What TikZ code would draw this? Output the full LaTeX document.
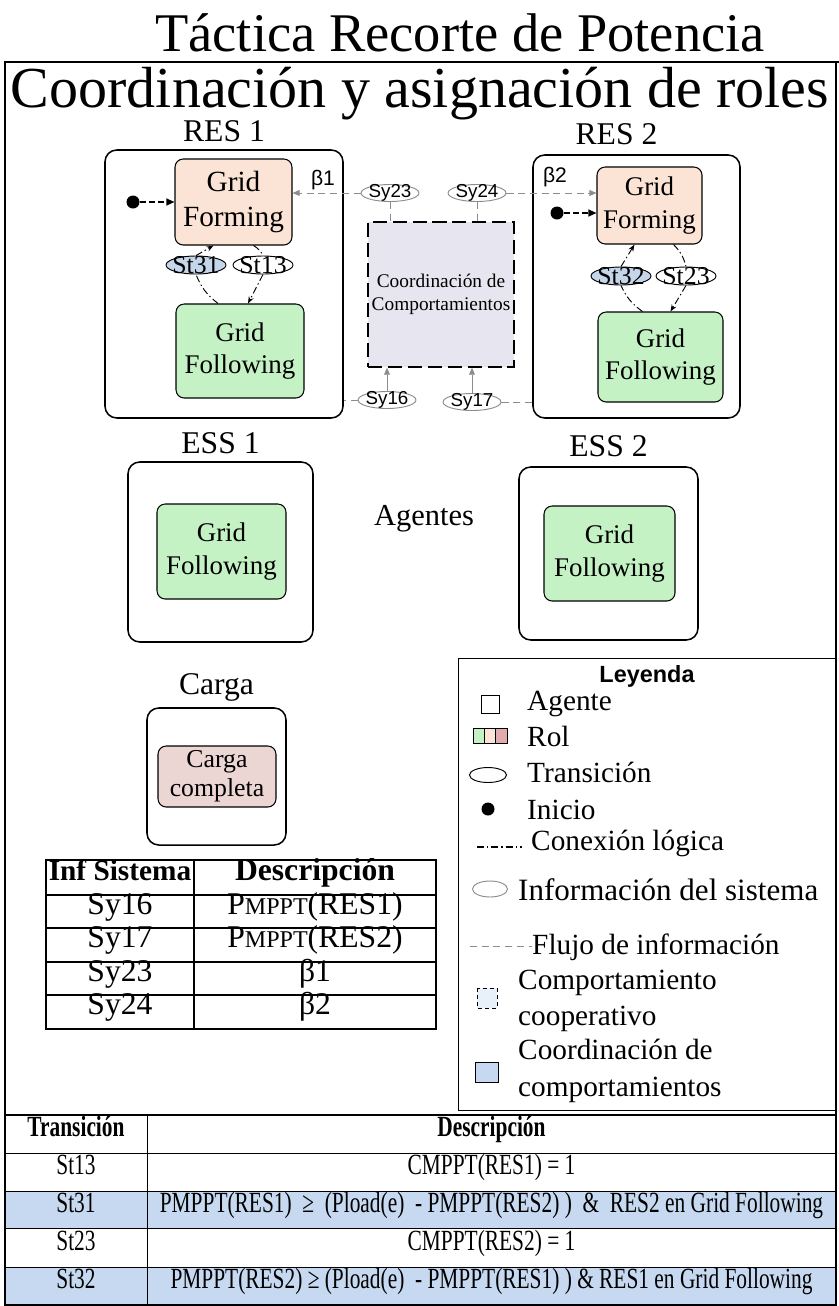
\documentclass[tikz,border=0pt]{standalone}
\usepackage{fontspec}
\usepackage{graphicx}
\setmainfont{Liberation Serif}
\newfontfamily\arialfont{Liberation Sans}
\usetikzlibrary{shapes.geometric, arrows.meta, positioning, calc}

\definecolor{formc}{RGB}{251,228,213}
\definecolor{followc}{RGB}{196,242,196}
\definecolor{cargac}{RGB}{236,214,212}
\definecolor{rolc}{RGB}{222,172,172}
\definecolor{transc}{RGB}{197,213,234}
\definecolor{coordc}{RGB}{231,229,239}
\definecolor{coopc}{RGB}{232,240,250}
\definecolor{rowc}{RGB}{198,217,240}
\definecolor{flowc}{RGB}{140,140,140}

% 1 unidad = 1 px
\newcommand{\pxu}{0.03cm}
\newcommand{\narrow}[1]{\scalebox{0.73}[1]{#1}}
\newcommand{\pmppt}{P\scalebox{0.76}{MPPT}}

\tikzstyle{agent} = [rectangle, 
			draw, 
			line width = 1.3pt,
			rounded corners = 10pt]
\tikzstyle{rol} = [rectangle, 
			draw, 
			line width = 0.9pt,
			rounded corners = 7pt,
			align = center,
			inner sep = 1pt,
			font = \fontsize{23}{28}\selectfont]
\tikzstyle{trans} = [ellipse, 
			draw, 
			line width = 0.8pt,
			inner sep = -3pt,
			minimum width = 60*\pxu,
			minimum height = 18*\pxu,
			font = \fontsize{22}{22}\selectfont]
\tikzstyle{info} = [ellipse, 
			draw = flowc, 
			line width = 0.8pt,
			inner sep = -3pt,
			minimum width = 58*\pxu,
			minimum height = 17*\pxu,
			font = \arialfont\fontsize{16}{16}\selectfont]
\tikzstyle{dot} = [circle, 
			fill, 
			inner sep = 0pt,
			minimum size = 13*\pxu]
\tikzstyle{lbl} = [inner sep = 0pt, 
			font = \fontsize{27}{27}\selectfont]
\tikzstyle{legtxt} = [anchor = west, 
			inner sep = 0pt, 
			align = left,
			font = \fontsize{25}{31}\selectfont]
\tikzstyle{cell} = [inner sep = 0pt, 
			text height = 0.7em, 
			text depth = 0.2em,
			font = \fontsize{27}{27}\selectfont]
\tikzstyle{tcell} = [inner sep = 0pt, 
			text height = 0.7em, 
			text depth = 0.2em,
			font = \fontsize{25}{25}\selectfont]
\tikzstyle{flow} = [draw = flowc, 
			dash pattern = on 6pt off 4pt, 
			line width = 0.8pt]
\tikzstyle{logic} = [draw, 
			dash pattern = on 6pt off 2.5pt on 1.2pt off 2.5pt, 
			line width = 0.8pt]
\tikzstyle{ini} = [draw, 
			dash pattern = on 5pt off 3pt, 
			line width = 1.3pt]

\begin{document}
\begin{tikzpicture}[x = \pxu, y = -\pxu, node distance = 1em, auto]
	\useasboundingbox (0,0) rectangle (839,1306);
	\node [lbl, anchor = base, font = \fontsize{46.5}{46.5}\selectfont] (title) at (460,51) {Táctica Recorte de Potencia};
	\draw [line width = 1.5pt] (5,1306) -- (5,62) -- (839,62);
	\draw [line width = 1.5pt] (836,62) -- (836,1306);
	\node [lbl, anchor = base, font = \fontsize{49.5}{49.5}\selectfont] (subtitle) at (420,107) {Coordinación y asignación de roles};

	% RES 1
	\node [agent, minimum width = 238*\pxu, minimum height = 268*\pxu] (res1) at (224,284) {};
	\node [lbl, above = 6pt of res1] (res1lbl) {RES 1};
	\node [rol, fill = formc, minimum width = 117*\pxu, minimum height = 86*\pxu, font = \fontsize{25}{30}\selectfont] (gf1) at (233.5,202) {Grid\\Forming};
	\node [rol, fill = followc, minimum width = 128*\pxu, minimum height = 94*\pxu] (gl1) at (240,351) {Grid\\Following};
	\node [trans, fill = transc] (st31) at (196,265) {St31};
	\node [trans] (st13) at (263,265) {St13};
	\node [dot] (ini1) at (133,202) {};
	\node [lbl, font = \arialfont\fontsize{18}{18}\selectfont] (beta1) at (323,180) {β1};
	\draw [ini, -{Triangle[length=7pt, width=6pt]}] (ini1) -- (ini1 -| gf1.west);
	\draw [logic] ($(gl1.north)+(-22,0)$) to[bend left=15] (st31.south);
	\draw [logic, -{Stealth[length=6pt]}] (st31.north) -- ($(gf1.south)+(-20,0)$);
	\draw [logic] ($(gf1.south)+(20,0)$) to[bend left=15] (st13.north);
	\draw [logic, -{Stealth[length=6pt]}] (st13.south) -- ($(gl1.north)+(8,0)$);

	% RES 2
	\node [agent, minimum width = 207*\pxu, minimum height = 263*\pxu] (res2) at (636.5,286.5) {};
	\node [lbl, above = 8pt of res2, xshift = -0.6cm] (res2lbl) {RES 2};
	\node [rol, fill = formc, minimum width = 105*\pxu, minimum height = 77*\pxu] (gf2) at (649.5,205.5) {Grid\\Forming};
	\node [rol, fill = followc, minimum width = 125*\pxu, minimum height = 90*\pxu] (gl2) at (660.5,357) {Grid\\Following};
	\node [trans, fill = transc] (st32) at (621,276) {St32};
	\node [trans] (st23) at (686,276) {St23};
	\node [dot] (ini2) at (557,213) {};
	\node [lbl, font = \arialfont\fontsize{18}{18}\selectfont] (beta2) at (555,177) {β2};
	\draw [ini, -{Triangle[length=7pt, width=6pt]}] (ini2) -- (ini2 -| gf2.west);
	\draw [logic] ($(gl2.north)+(-18,0)$) to[bend left=15] (st32.south);
	\draw [logic, -{Stealth[length=6pt]}] (st32.north) -- ($(gf2.south)+(-15,0)$);
	\draw [logic] ($(gf2.south)+(24,0)$) to[bend left=15] (st23.north);
	\draw [logic, -{Stealth[length=6pt]}] (st23.south) -- ($(gl2.north)+(10,0)$);

	% coordinacion e informacion del sistema
	\node [draw, fill = coordc, line width = 1.2pt, dash pattern = on 12pt off 5pt, minimum width = 146*\pxu, minimum height = 145*\pxu, inner sep = 1pt, align = center, font = \fontsize{16.5}{20}\selectfont] (coord) at (441,294.5) {Coordinación de\\Comportamientos};
	\node [info] (sy23) at (390,193) {Sy23};
	\node [info] (sy24) at (477,193) {Sy24};
	\node [info] (sy16) at (387,400) {Sy16};
	\node [info] (sy17) at (472,402) {Sy17};
	\draw [flow, -{Triangle[length=6pt, width=5pt]}] (sy23.west) -- (sy23.west -| gf1.east);
	\draw [flow, -{Triangle[length=6pt, width=5pt]}] (sy24.east) -- (sy24.east -| gf2.west);
	\draw [flow] (sy23.south) -- (sy23.south |- coord.north);
	\draw [flow] (sy24.south) -- (sy24.south |- coord.north);
	\draw [draw = flowc, line width = 0.8pt, -{Triangle[length=6pt, width=5pt]}] (sy16.north) -- (sy16.north |- coord.south);
	\draw [draw = flowc, line width = 0.8pt, -{Triangle[length=6pt, width=5pt]}] (sy17.north) -- (sy17.north |- coord.south);
	\draw [flow] (sy16.west) -- (sy16.west -| res1.east);
	\draw [flow] (sy17.east) -- (sy17.east -| res2.west);

	% ESS y carga
	\node [agent, minimum width = 185*\pxu, minimum height = 180*\pxu] (ess1) at (220.5,552) {};
	\node [lbl, above = 6pt of ess1] (ess1lbl) {ESS 1};
	\node [rol, fill = followc, minimum width = 129*\pxu, minimum height = 95*\pxu] (gl3) at (221.5,551.5) {Grid\\Following};
	\node [agent, minimum width = 179*\pxu, minimum height = 173*\pxu] (ess2) at (608.5,553.5) {};
	\node [lbl, above = 8pt of ess2] (ess2lbl) {ESS 2};
	\node [rol, fill = followc, minimum width = 131*\pxu, minimum height = 95*\pxu] (gl4) at (609.5,553.5) {Grid\\Following};
	\node [lbl, font = \fontsize{26}{26}\selectfont] (agentes) at (424,519) {Agentes};
	\node [agent, minimum width = 139*\pxu, minimum height = 137*\pxu] (carga) at (216.5,776.5) {};
	\node [lbl, above = 5pt of carga] (cargalbl) {Carga};
	\node [rol, fill = cargac, minimum width = 118*\pxu, minimum height = 61*\pxu, font = \fontsize{22}{25}\selectfont] (cc) at (217,776.5) {Carga\\completa};

	% tabla de informacion del sistema
	\draw [line width = 1pt] (46,860) rectangle (436,1029);
	\foreach \y in {895,928,962,995} \draw [line width = 1pt] (46,\y) -- (436,\y);
	\draw [line width = 1pt] (194,860) -- (194,1029);
	\node [cell, font = \bfseries\fontsize{25}{25}\selectfont] (hinf) at (120,877.5) {Inf Sistema};
	\node [cell, font = \bfseries\fontsize{27}{27}\selectfont] (hdesc) at (315,877.5) {Descripción};
	\foreach \y/\s/\d [count=\i] in {911.5/Sy16/\pmppt(RES1), 945/Sy17/\pmppt(RES2), 978.5/Sy23/β1, 1012/Sy24/β2} {
		\node [cell] (infs\i) at (120,\y) {\s};
		\node [cell] (infd\i) at (315,\y) {\d};
	}

	% leyenda
	\draw [line width = 0.8pt] (458,658) rectangle (835,1110);
	\node [inner sep = 0pt, font = \arialfont\bfseries\fontsize{20}{20}\selectfont] (leyenda) at (647,676) {Leyenda};
	\node [draw, line width = 0.6pt, minimum size = 18*\pxu, inner sep = 0pt] (lagente) at (490,704) {};
	\node [legtxt] (tagente) at (527,704) {Agente};
	\draw [fill = followc] (473,728) rectangle (484,743);
	\draw [fill = formc] (484,728) rectangle (495,743);
	\draw [fill = rolc] (495,728) rectangle (507,743);
	\node [legtxt] (trol) at (527,736) {Rol};
	\node [ellipse, draw, line width = 0.8pt, inner sep = 0pt, minimum width = 37*\pxu, minimum height = 15*\pxu] (ltrans) at (488,775) {};
	\node [legtxt] (ttrans) at (527,772) {Transición};
	\node [dot] (lini) at (488,809) {};
	\node [legtxt] (tini) at (527,810) {Inicio};
	\coordinate (llog) at (477,847);
	\draw [logic, line width = 1.1pt] (llog) -- ++(45,0);
	\node [legtxt] (tlog) at (531,843) {Conexión lógica};
	\node [ellipse, draw = flowc, line width = 0.8pt, inner sep = 0pt, minimum width = 35*\pxu, minimum height = 16*\pxu] (linfo) at (490,889) {};
	\node [legtxt, font = \fontsize{26.5}{31}\selectfont] (tinfo) at (518,890) {Información del sistema};
	\coordinate (lflow) at (470,946);
	\draw [flow] (lflow) -- ++(62,0);
	\node [legtxt] (tflow) at (532,947) {Flujo de información};
	\draw [dashed, fill = coopc, line width = 0.6pt] (477,988) rectangle (497,1008);
	\node [legtxt] (tcoop) at (518,1001) {Comportamiento\\cooperativo};
	\draw [fill = rowc, line width = 0.6pt] (475,1062) rectangle (498,1082);
	\node [legtxt] (tcoord) at (518,1071) {Coordinación de\\comportamientos};

	% tabla de transiciones
	\fill [rowc] (5,1191) rectangle (836,1228);
	\fill [rowc] (5,1267) rectangle (836,1305);
	\draw [line width = 1pt] (5,1115) rectangle (836,1305);
	\foreach \y in {1153,1191,1228,1267} \draw [line width = 0.8pt] (5,\y) -- (836,\y);
	\draw [line width = 0.8pt] (147,1115) -- (147,1305);
	\node [tcell, font = \bfseries\fontsize{25}{25}\selectfont] (htrans) at (76,1134) {\narrow{Transición}};
	\node [tcell, font = \bfseries\fontsize{25}{25}\selectfont] (hdesc2) at (491.5,1134) {\narrow{Descripción}};
	\foreach \y/\s/\d [count=\i] in {1172/St13/CMPPT(RES1) = 1,
			1209.5/St31/PMPPT(RES1)~~≥~~(Pload(e)~~- PMPPT(RES2)~)~~\&~~RES2 en Grid Following,
			1247.5/St23/CMPPT(RES2) = 1,
			1286/St32/PMPPT(RES2)~≥~(Pload(e)~~- PMPPT(RES1)~)~\&~RES1 en Grid Following} {
		\node [tcell] (trs\i) at (76,\y) {\narrow{\s}};
		\node [tcell] (trd\i) at (491.5,\y) {\narrow{\d}};
	}
\end{tikzpicture}
\end{document}
